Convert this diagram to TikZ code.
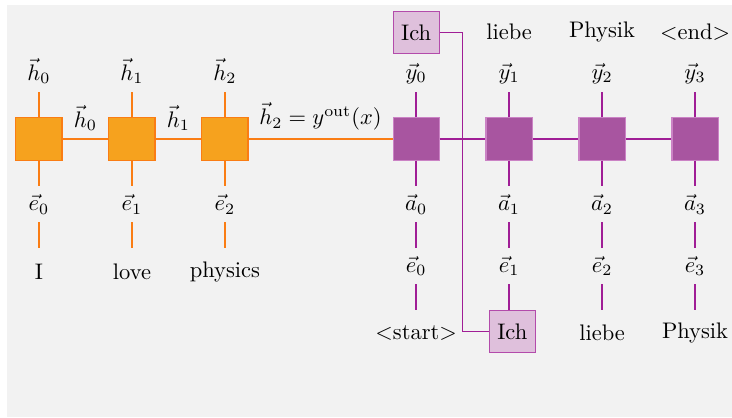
\documentclass[tikz,border=0pt]{standalone}
\usepackage{amsmath,amssymb}
\usepackage{tikz}
\usetikzlibrary{positioning,calc}
\usepackage{xcolor}
\definecolor{encfill}{RGB}{246,162,30}
\definecolor{encline}{RGB}{250,125,20}
\definecolor{decfill}{RGB}{168,85,160}
\definecolor{decline}{RGB}{160,30,150}
\definecolor{tokfill}{RGB}{223,192,220}
\definecolor{bggray}{RGB}{242,242,242}

\begin{document}
\begin{tikzpicture}[
  enc/.style={draw=encline, fill=encfill, minimum width=0.72cm, minimum height=0.66cm, line width=0.5pt},
  dec/.style={draw=decline!55, fill=decfill, minimum width=0.72cm, minimum height=0.66cm, line width=0.5pt},
  tok/.style={draw=decline!80, fill=tokfill, minimum width=0.72cm, minimum height=0.66cm, inner sep=1pt, line width=0.5pt},
  lab/.style={minimum height=0.55cm},
  word/.style={minimum height=0.72cm},
  eline/.style={draw=encline, line width=1pt},
  dline/.style={draw=decline, line width=1pt},
  link/.style={draw=decline, line width=0.5pt},
  node distance=0.4cm
]
\useasboundingbox (-0.609,-4.344) rectangle (10.828,2.172);
\fill[bggray] (-0.5,-4.344) rectangle (10.828,2.094);
\node[enc] (e0) {};
\node[enc, right=0.715cm of e0] (e1) {};
\node[enc, right=0.715cm of e1] (e2) {};
\node[dec, right=2.25cm of e2] (d0) {};
\node[dec, right=0.715cm of d0] (d1) {};
\node[dec, right=0.715cm of d1] (d2) {};
\node[dec, right=0.715cm of d2] (d3) {};
\node[lab, above=of e0] (h0) {$\vec{h}_0$}; \draw[eline] (e0) -- (h0);
\node[lab, above=of e1] (h1) {$\vec{h}_1$}; \draw[eline] (e1) -- (h1);
\node[lab, above=of e2] (h2) {$\vec{h}_2$}; \draw[eline] (e2) -- (h2);
\node[lab, below=of e0] (x0) {$\vec{e}_0$}; \draw[eline] (e0) -- (x0);
\node[lab, below=of e1] (x1) {$\vec{e}_1$}; \draw[eline] (e1) -- (x1);
\node[lab, below=of e2] (x2) {$\vec{e}_2$}; \draw[eline] (e2) -- (x2);
\node[word, below=of x0] (w0) {I}; \draw[eline] (x0) -- (w0);
\node[word, below=of x1] (w1) {love}; \draw[eline] (x1) -- (w1);
\node[word, below=of x2] (w2) {physics}; \draw[eline] (x2) -- (w2);
\draw[eline] (e0) -- node[above] (hh0) {$\vec{h}_0$} (e1);
\draw[eline] (e1) -- node[above] (hh1) {$\vec{h}_1$} (e2);
\draw[eline] (e2) -- node[above] (hout) {$\vec{h}_2 = y^{\mathrm{out}}(x)$} (d0);
\draw[dline] (d0) -- (d1);
\draw[dline] (d1) -- (d2);
\draw[dline] (d2) -- (d3);
\node[lab, above=of d0] (y0) {$\vec{y}_0$}; \draw[dline] (d0) -- (y0);
\node[lab, above=of d1] (y1) {$\vec{y}_1$}; \draw[dline] (d1) -- (y1);
\node[lab, above=of d2] (y2) {$\vec{y}_2$}; \draw[dline] (d2) -- (y2);
\node[lab, above=of d3] (y3) {$\vec{y}_3$}; \draw[dline] (d3) -- (y3);
\node[tok, above=0.02cm of y0] (ich0) {Ich};
\node[word, above=0cm of y1] (o1) {liebe};
\node[word, above=0cm of y2] (o2) {Physik};
\node[word, above=0cm of y3] (o3) {$<$end$>$};
\node[lab, below=of d0] (a0) {$\vec{a}_0$}; \draw[dline] (d0) -- (a0);
\node[lab, below=of d1] (a1) {$\vec{a}_1$}; \draw[dline] (d1) -- (a1);
\node[lab, below=of d2] (a2) {$\vec{a}_2$}; \draw[dline] (d2) -- (a2);
\node[lab, below=of d3] (a3) {$\vec{a}_3$}; \draw[dline] (d3) -- (a3);
\node[lab, below=of a0] (z0) {$\vec{e}_0$}; \draw[dline] (a0) -- (z0);
\node[lab, below=of a1] (z1) {$\vec{e}_1$}; \draw[dline] (a1) -- (z1);
\node[lab, below=of a2] (z2) {$\vec{e}_2$}; \draw[dline] (a2) -- (z2);
\node[lab, below=of a3] (z3) {$\vec{e}_3$}; \draw[dline] (a3) -- (z3);
\node[word, below=of z0] (i0) {$<$start$>$}; \draw[dline] (z0) -- (i0);
\node[tok, below=of z1, xshift=0.05cm] (ich1) {Ich}; \draw[dline] (z1) -- (z1 |- ich1.north);
\node[word, below=of z2] (i2) {liebe}; \draw[dline] (z2) -- (i2);
\node[word, below=of z3] (i3) {Physik}; \draw[dline] (z3) -- (i3);
\coordinate (turn) at ($(d0)!0.5!(d1)$);
\draw[link] (ich0.east) -| (turn) |- (ich1.west);
\end{tikzpicture}
\end{document}
